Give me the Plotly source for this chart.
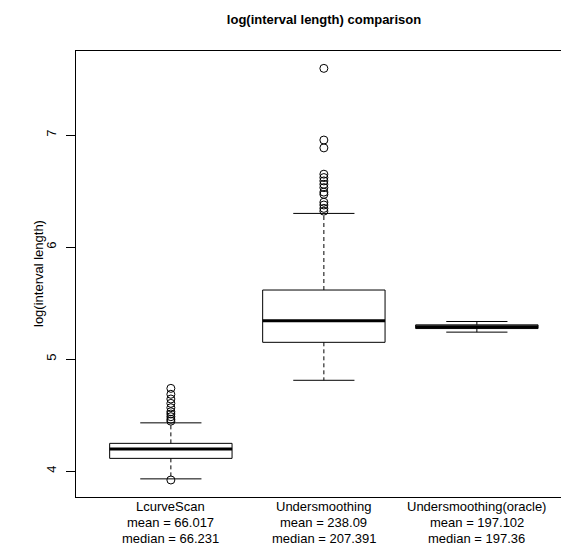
import plotly.graph_objects as go

# ---- data ----
categories = ["LcurveScan", "Undersmoothing", "Undersmoothing(oracle)"]
mean_vals = ["66.017", "238.09", "197.102"]
median_vals = ["66.231", "207.391", "197.36"]

q1 = [4.113, 5.149, 5.272]
med = [4.196, 5.342, 5.288]
q3 = [4.247, 5.616, 5.305]
whisk_lo = [3.930, 4.810, 5.240]
whisk_hi = [4.430, 6.300, 5.335]

outliers_lcurve = [4.738, 4.685, 4.643, 4.604, 4.565, 4.529, 4.509, 4.485, 4.462, 4.445, 3.920]
outliers_under = [7.595, 6.955, 6.885, 6.650, 6.620, 6.590, 6.560, 6.530, 6.490, 6.470,
                  6.400, 6.375, 6.345, 6.320]
outliers_oracle = []
outliers = [outliers_lcurve, outliers_under, outliers_oracle]

y_ticks = [4, 5, 6, 7]

# ---- figure ----
fig = go.Figure()
BOX_HALF = 0.4
CAP_HALF = 0.2
FONT = "Liberation Sans, Arial, Helvetica, sans-serif"
FS = 13

for i, name in enumerate(categories):
    x = i + 1
    # box
    fig.add_trace(go.Scatter(
        x=[x - BOX_HALF, x + BOX_HALF, x + BOX_HALF, x - BOX_HALF, x - BOX_HALF],
        y=[q1[i], q1[i], q3[i], q3[i], q1[i]],
        mode="lines", line=dict(color="black", width=1),
        fill="toself", fillcolor="white", hoverinfo="skip", showlegend=False))
    # whiskers (dashed)
    fig.add_trace(go.Scatter(
        x=[x, x, None, x, x], y=[q3[i], whisk_hi[i], None, q1[i], whisk_lo[i]],
        mode="lines", line=dict(color="black", width=1, dash="4px,3px"),
        hoverinfo="skip", showlegend=False))
    # caps
    fig.add_trace(go.Scatter(
        x=[x - CAP_HALF, x + CAP_HALF, None, x - CAP_HALF, x + CAP_HALF],
        y=[whisk_hi[i], whisk_hi[i], None, whisk_lo[i], whisk_lo[i]],
        mode="lines", line=dict(color="black", width=1),
        hoverinfo="skip", showlegend=False))
    # median
    fig.add_trace(go.Scatter(
        x=[x - BOX_HALF, x + BOX_HALF], y=[med[i], med[i]],
        mode="lines", line=dict(color="black", width=3),
        hoverinfo="skip", showlegend=False))
    # outliers
    if outliers[i]:
        fig.add_trace(go.Scatter(
            x=[x] * len(outliers[i]), y=outliers[i], mode="markers",
            marker=dict(symbol="circle-open", size=8, color="black",
                        line=dict(width=1, color="black")),
            hoverinfo="skip", showlegend=False))

# the page has an 8px body margin, so the figure is drawn 8px in from the corner
OFF = 8
W, H = 569 - OFF, 547 - OFF
L, T, B = 76 - OFF, 51 - OFF, 50
plot_w = W - L
plot_h = H - T - B
px_per_unit = 153.0
x0 = 0.38
x1 = x0 + plot_w / px_per_unit

annotations = []
line_px = [506, 522, 538]
for i, name in enumerate(categories):
    texts = [name, "mean = " + mean_vals[i], "median = " + median_vals[i]]
    for t, ypx in zip(texts, line_px):
        annotations.append(dict(
            x=i + 1, xref="x", y=(H - B - (ypx - OFF)) / plot_h, yref="paper",
            text=t, showarrow=False, xanchor="center", yanchor="middle",
            font=dict(family=FONT, size=FS, color="black")))

annotations.append(dict(
    x=((38 - OFF) - L) / plot_w, xref="paper", y=0.5, yref="paper",
    text="log(interval length)", textangle=-90, showarrow=False,
    xanchor="center", yanchor="middle",
    font=dict(family=FONT, size=FS, color="black")))

fig.update_layout(
    width=W, height=H,
    margin=dict(l=L, r=0, t=T, b=B),
    plot_bgcolor="white", paper_bgcolor="white",
    title=dict(text="<b>log(interval length) comparison</b>",
               x=(324 - OFF) / W, xanchor="center", y=1 - (19 - OFF) / H, yanchor="middle",
               font=dict(family=FONT, size=13, color="black")),
    annotations=annotations,
    xaxis=dict(range=[x0, x1], showgrid=False, zeroline=False,
               showticklabels=False, ticks="",
               showline=True, linecolor="black", linewidth=1, mirror=True),
    yaxis=dict(range=[3.768, 7.75], showgrid=False, zeroline=False,
               tickvals=y_ticks, ticktext=[str(v) for v in y_ticks],
               ticks="outside", ticklen=9, tickcolor="black", tickwidth=1,
               tickangle=-90, ticklabelstandoff=5,
               tickfont=dict(family=FONT, size=FS, color="black"),
               showline=True, linecolor="black", linewidth=1, mirror=False),
)

fig.write_html("out.html")
